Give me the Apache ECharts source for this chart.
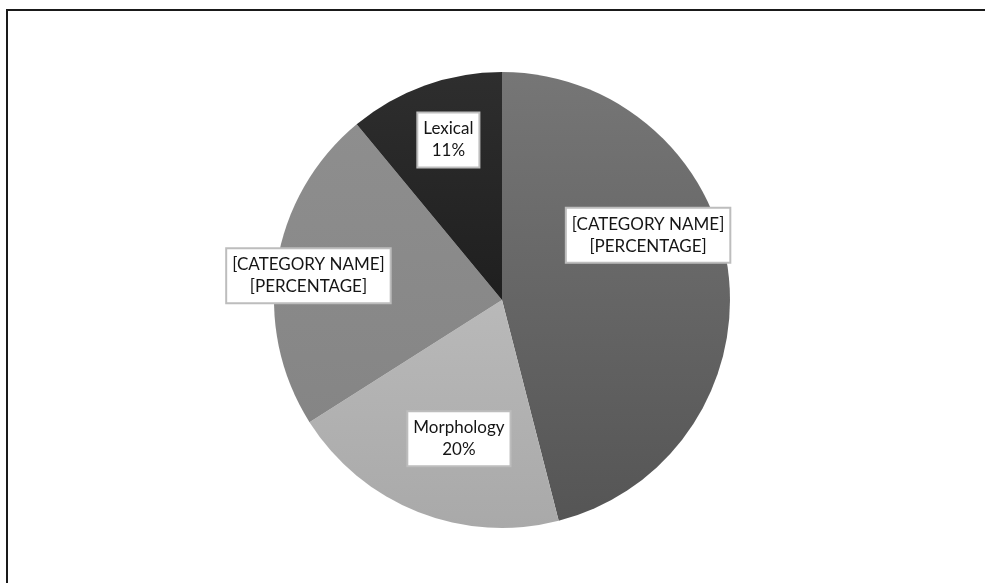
<!DOCTYPE html>
<html><head><meta charset="utf-8">
<script src="https://cdn.jsdelivr.net/npm/echarts@6/dist/echarts.min.js"></script>
<style>html,body{margin:0;padding:0;background:#fff}#c{width:985px;height:583px}</style>
</head><body><div id="c"></div>
<script>
const categories = ['[CATEGORY NAME]', 'Morphology', '[CATEGORY NAME]', 'Lexical'];
const values = [46, 20, 23, 11];
const labelLines = [['[CATEGORY NAME]', '[PERCENTAGE]'], null, ['[CATEGORY NAME]', '[PERCENTAGE]'], null];

const colors = [
  ['#767676', '#555555'],
  ['#b9b9b9', '#a9a9a9'],
  ['#8e8e8e', '#858585'],
  ['#2e2e2e', '#1f1f1f']
];
const offsets = [[30, -50], [0, 30], [-78, -6], [-14, -50]];

const chart = echarts.init(document.getElementById('c'), null, {renderer: 'canvas'});
chart.setOption({
  animation: false,
  backgroundColor: '#fff',
  graphic: [{
    type: 'rect', shape: {x: 7, y: 10, width: 1000, height: 600},
    style: {fill: 'none', stroke: '#1a1a1a', lineWidth: 2}, silent: true
  }],
  series: [{
    type: 'pie',
    center: [502, 300],
    radius: [0, 228],
    startAngle: 90,
    clockwise: true,
    avoidLabelOverlap: false,
    labelLine: {show: false},
    data: categories.map((n, i) => ({
      name: n,
      value: values[i],
      itemStyle: {
        color: new echarts.graphic.LinearGradient(0, 0, 0, 1, [
          {offset: 0, color: colors[i][0]}, {offset: 1, color: colors[i][1]}
        ])
      },
      label: {offset: offsets[i]}
    })),
    label: {
      show: true,
      position: 'inside',
      formatter: p => labelLines[p.dataIndex] ? labelLines[p.dataIndex].join('\n') : p.name + '\n' + Math.round(p.percent) + '%',
      backgroundColor: '#fff',
      borderColor: '#bdbdbd',
      borderWidth: 2,
      padding: [5, 5, 4, 5],
      color: '#151515',
      fontFamily: 'Lato',
      fontSize: 17,
      lineHeight: 22,
      align: 'center'
    },
    emphasis: {disabled: true}
  }]
});
</script></body></html>
